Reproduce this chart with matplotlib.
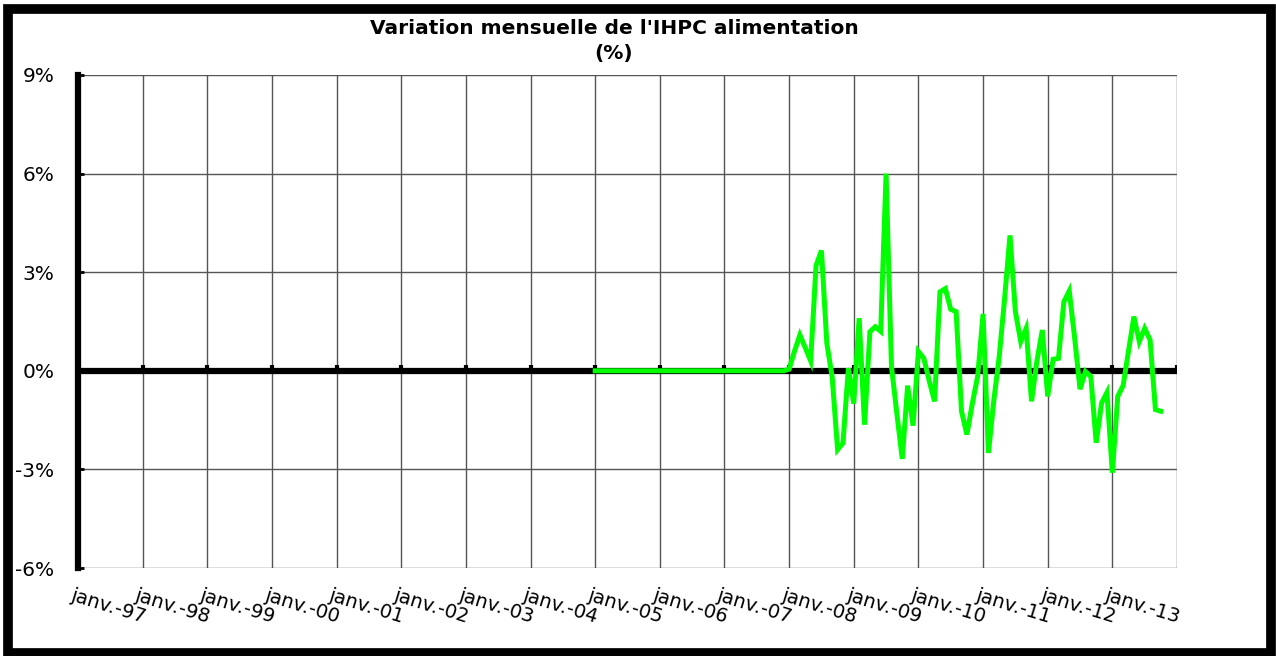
import matplotlib
matplotlib.use("Agg")
import matplotlib.pyplot as plt
from matplotlib.patches import Rectangle
import numpy as np
import pandas as pd

plt.rcParams["font.family"] = ["DejaVu Sans"]

TITLE = "Variation mensuelle de l'IHPC alimentation"
SUBTITLE = "(%)"
YEAR_LABELS = ["janv.-97", "janv.-98", "janv.-99", "janv.-00", "janv.-01",
               "janv.-02", "janv.-03", "janv.-04", "janv.-05", "janv.-06",
               "janv.-07", "janv.-08", "janv.-09", "janv.-10", "janv.-11",
               "janv.-12", "janv.-13"]
FIRST_YEAR = 1997
LAST_YEAR = 2014
SERIES_START = "2005-01"

# monthly change, %, janv.-05 .. oct.-13
ihpc_alim = [
    0.0, 0.0, 0.0, 0.0, 0.0, 0.0, 0.0, 0.0, 0.0, 0.0, 0.0, 0.0,          # 2005
    0.0, 0.0, 0.0, 0.0, 0.0, 0.0, 0.0, 0.0, 0.0, 0.0, 0.0, 0.0,          # 2006
    0.0, 0.0, 0.0, 0.0, 0.0, 0.0, 0.0, 0.0, 0.0, 0.0, 0.0, 0.0,          # 2007
    0.05, 0.6, 1.09, 0.7, 0.3, 3.2, 3.66, 0.84, -0.2, -2.4, -2.2, 0.08,  # 2008
    -1.0, 1.6, -1.64, 1.19, 1.34, 1.2, 6.0, 0.13, -1.3, -2.68, -0.45, -1.67,  # 2009
    0.59, 0.38, -0.3, -0.93, 2.4, 2.5, 1.87, 1.8, -1.23, -1.94, -1.0, -0.17,  # 2010
    1.73, -2.5, -0.9, 0.43, 2.2, 4.12, 1.8, 0.89, 1.29, -0.93, 0.3, 1.24,  # 2011
    -0.78, 0.35, 0.38, 2.1, 2.43, 1.0, -0.56, -0.02, -0.17, -2.19, -0.98, -0.66,  # 2012
    -3.1, -0.78, -0.45, 0.6, 1.65, 0.89, 1.29, 0.94, -1.18, -1.23,  # 2013
]

Y_TICKS = [-6, -3, 0, 3, 6, 9]

W, H = 1276, 656


def main():
    start = pd.Period(SERIES_START, freq="M")
    x0 = (start.year - FIRST_YEAR) * 12 + (start.month - 1)
    x = x0 + np.arange(len(ihpc_alim))
    year_ticks = np.arange(0, (LAST_YEAR - FIRST_YEAR) * 12 + 1, 12)

    fig = plt.figure(figsize=(W / 100, H / 100), dpi=100)
    ax = fig.add_axes([78 / W, 1 - 568 / H, (1177 - 78) / W, (568 - 75) / H])

    ax.set_xlim(year_ticks[0], year_ticks[-1])
    ax.set_ylim(Y_TICKS[0], Y_TICKS[-1])

    # grid
    for t in year_ticks[1:]:
        ax.axvline(t, color="#555555", lw=1.0, zorder=1)
    for v in Y_TICKS:
        if v != 0:
            ax.axhline(v, color="#555555", lw=1.0, zorder=1)

    # zero axis with year marks
    ax.axhline(0, color="black", lw=4.5, zorder=2)
    ax.vlines(year_ticks, 0, 0.18, color="black", lw=3, zorder=2)

    ax.plot(x, ihpc_alim, color="#00ff00", lw=3.6, solid_joinstyle="miter",
            zorder=4, clip_on=False)

    for s in ["top", "right", "bottom"]:
        ax.spines[s].set_visible(False)
    ax.spines["left"].set_linewidth(4.5)
    ax.spines["left"].set_zorder(5)

    ax.set_yticks(Y_TICKS)
    ax.set_yticklabels([f"{v}%" for v in Y_TICKS])
    ax.tick_params(axis="y", direction="in", length=4, width=2, pad=17,
                   labelsize=14.5)

    ax.set_xticks(year_ticks[:len(YEAR_LABELS)])
    ax.set_xticklabels([])
    ax.tick_params(axis="x", length=0)
    for t, lab in zip(year_ticks, YEAR_LABELS):
        ax.text(t - 0.8, -6.55, lab, rotation=-17, rotation_mode="anchor",
                ha="left", va="top", fontsize=14)

    fig.text(614 / W, 1 - 29 / H, TITLE, ha="center", va="center",
             fontsize=14.5, fontweight="bold")
    fig.text(614 / W, 1 - 53 / H, SUBTITLE, ha="center", va="center",
             fontsize=14.5, fontweight="bold")

    fig.patches.append(Rectangle((8 / W, 3 / H), 1263 / W, 644.5 / H,
                                 transform=fig.transFigure, fill=False,
                                 edgecolor="black", lw=7))

    fig.savefig("out.png", dpi=100)


if __name__ == "__main__":
    main()
